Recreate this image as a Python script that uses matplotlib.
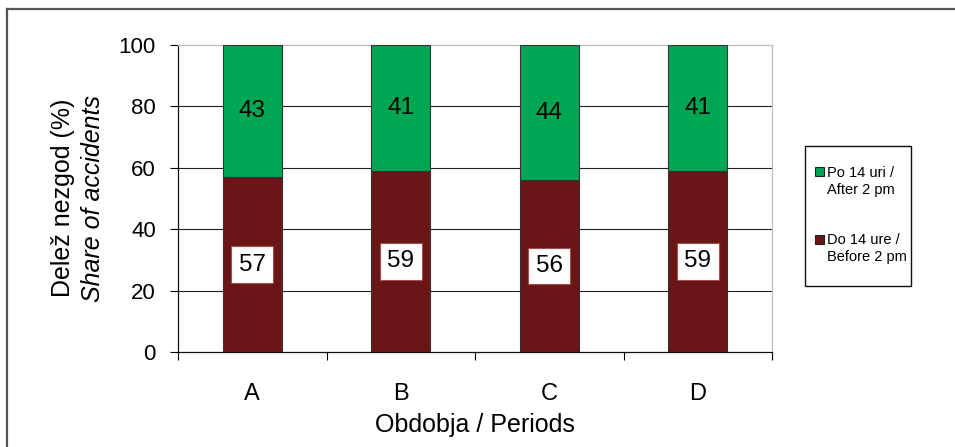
import matplotlib
matplotlib.use("Agg")
import matplotlib.pyplot as plt
from matplotlib.patches import Patch, Rectangle
from matplotlib.lines import Line2D

plt.rcParams['font.family'] = ['Liberation Sans', 'DejaVu Sans']

periods = ['A', 'B', 'C', 'D']
before_2pm = [57, 59, 56, 59]
after_2pm = [43, 41, 44, 41]

label_before = ['Do 14 ure /', 'Before 2 pm']
label_after = ['Po 14 uri /', 'After 2 pm']
green = '#00A651'
darkred = '#6A1616'

W, H = 955, 447
fig = plt.figure(figsize=(W / 100, H / 100), dpi=100)

# outer frame (left and top edges)
fig.add_artist(Line2D([7 / W, 7 / W], [0, 1 - 9 / H], transform=fig.transFigure,
                      color='#555555', lw=1.6))
fig.add_artist(Line2D([7 / W, 1], [1 - 9 / H, 1 - 9 / H], transform=fig.transFigure,
                      color='#555555', lw=1.6))

ax = fig.add_axes([178 / W, (H - 352) / H, 594 / W, 307 / H])
x = list(range(len(periods)))
ax.bar(x, before_2pm, width=0.4, color=darkred, edgecolor='#333333', lw=0.8, zorder=3)
ax.bar(x, after_2pm, width=0.4, bottom=before_2pm, color=green, edgecolor='#333333',
       lw=0.8, zorder=3)

for xi, b, a in zip(x, before_2pm, after_2pm):
    ax.text(xi, b / 2, f'{b}', ha='center', va='center', fontsize=17.5, zorder=4,
            bbox=dict(boxstyle='square,pad=0.3', fc='white', ec='#A0524A', lw=0.8))
    ax.text(xi, b + a / 2, f'{a}', ha='center', va='center', fontsize=17.5, zorder=4)

ax.set_xlim(-0.5, len(periods) - 0.5)
ax.set_ylim(0, 100)
ax.set_yticks([0, 20, 40, 60, 80, 100])
ax.set_xticks(x)
ax.set_xticklabels(periods)
ax.set_xticks([i - 0.5 for i in range(len(periods) + 1)], minor=True)
ax.tick_params(axis='x', which='major', length=0, labelsize=17, pad=22)
ax.tick_params(axis='x', which='minor', length=6, width=0.8, direction='out')
ax.tick_params(axis='y', length=6, width=0.8, labelsize=16, pad=10)

for yv in [20, 40, 60, 80]:
    ax.axhline(yv, color='#222222', lw=0.8, zorder=1)
ax.spines['left'].set_color('#111111')
ax.spines['bottom'].set_color('#111111')
ax.spines['top'].set_color('#B8BEC8')
ax.spines['right'].set_color('#B8BEC8')
for s in ax.spines.values():
    s.set_linewidth(0.9)

ax.set_xlabel('Obdobja / Periods', fontsize=18, labelpad=6)
fig.text(63 / W, (H - 198) / H, 'Delež nezgod (%)', rotation=90, ha='center',
         va='center', fontsize=18)
fig.text(93 / W, (H - 198) / H, 'Share of accidents', rotation=90, ha='center',
         va='center', fontsize=18, style='italic')

# legend box
fig.add_artist(Rectangle((805 / W, 1 - 286 / H), 106 / W, 140 / H,
                         transform=fig.transFigure, fill=False,
                         edgecolor='#111111', lw=1.0))

blank = Patch(visible=False)
handles = [Patch(facecolor=green, edgecolor='#222222', lw=0.8), blank, blank, blank,
           Patch(facecolor=darkred, edgecolor='#222222', lw=0.8), blank]
labels = [label_after[0], label_after[1], ' ', ' ', label_before[0], label_before[1]]
leg = fig.legend(handles=handles, labels=labels, loc='center left',
                 bbox_to_anchor=(815 / W, 1 - 215 / H), fontsize=10.5,
                 handlelength=0.6, handleheight=0.6, handletextpad=0.25,
                 labelspacing=0.2, borderpad=0, borderaxespad=0,
                 frameon=False)

fig.savefig('out.png', dpi=100, facecolor='white')
